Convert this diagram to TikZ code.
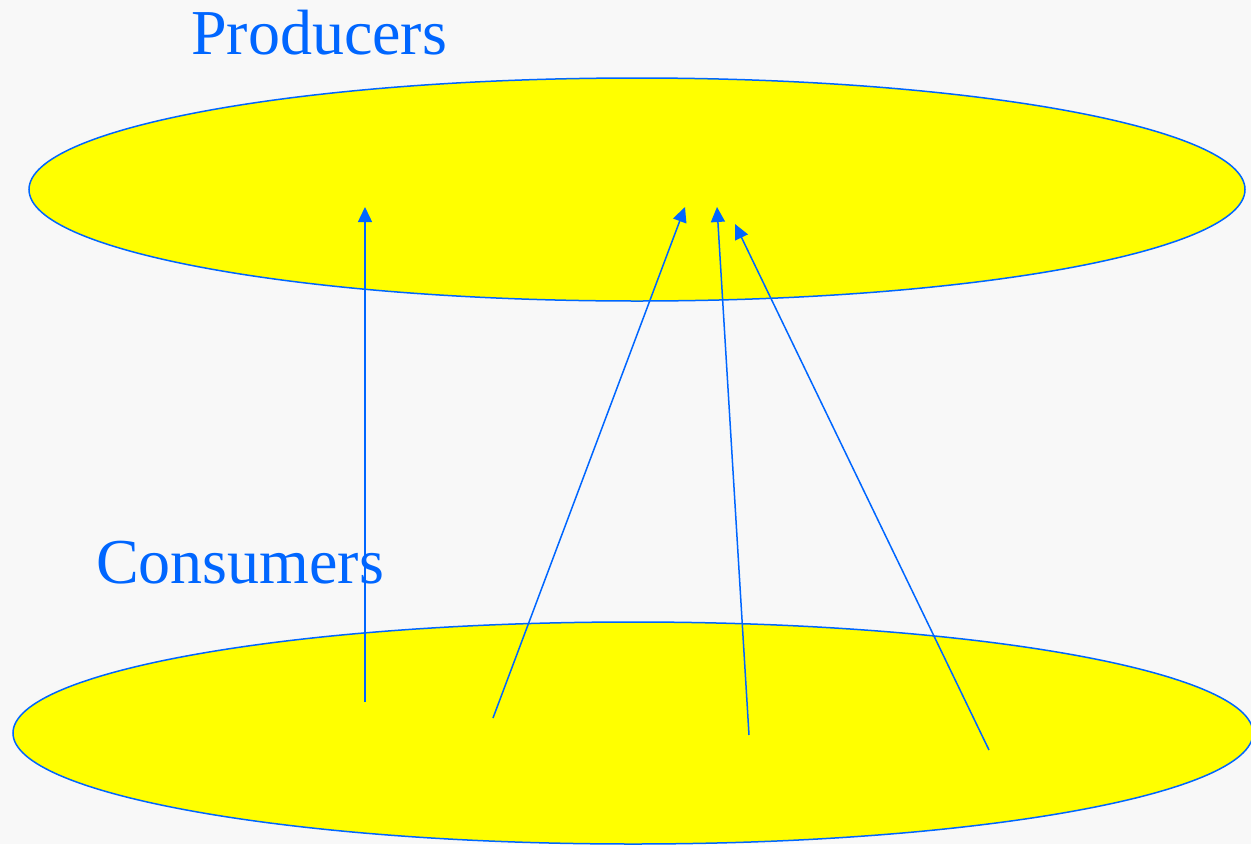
\documentclass[tikz,border=0pt]{standalone}
\usepackage{fontspec}
\setmainfont{Liberation Serif}
\usetikzlibrary{shapes.geometric,arrows.meta}
\definecolor{bgc}{HTML}{F8F8F8}
\definecolor{lineblue}{HTML}{0066FF}
\definecolor{fillyellow}{HTML}{FFFF00}
\begin{document}
\begin{tikzpicture}[x=1pt,y=-1pt,
  setblob/.style={ellipse, draw=lineblue, fill=fillyellow, line width=1.5pt, inner sep=0pt},
  setlabel/.style={text=lineblue, font=\fontsize{64}{76}\selectfont, inner sep=0pt, anchor=base west},
  flow/.style={draw=lineblue, line width=1.5pt, -{Triangle[length=15pt,width=14pt]}}
]
\fill[bgc] (0,0) rectangle (1251,844);
\useasboundingbox (0,0) rectangle (1251,844);
\node[setblob, minimum width=1216pt, minimum height=223pt] (producers) at (637,189.5) {};
\node[setblob, minimum width=1240pt, minimum height=222pt] (consumers) at (633,733) {};
\node[setlabel] (ptext) at (191,54) {Producers};
\node[setlabel] (ctext) at (96,583) {Consumers};
\coordinate (c1) at (365,702);
\coordinate (c2) at (493,718);
\coordinate (c3) at (749,735);
\coordinate (c4) at (989,750);
\coordinate (p1) at (365,207);
\coordinate (p2) at (685,207);
\coordinate (p3) at (717,207);
\coordinate (p4) at (735,224);
\draw[flow] (c1) -- (p1);
\draw[flow] (c2) -- (p2);
\draw[flow] (c3) -- (p3);
\draw[flow] (c4) -- (p4);
\end{tikzpicture}
\end{document}
